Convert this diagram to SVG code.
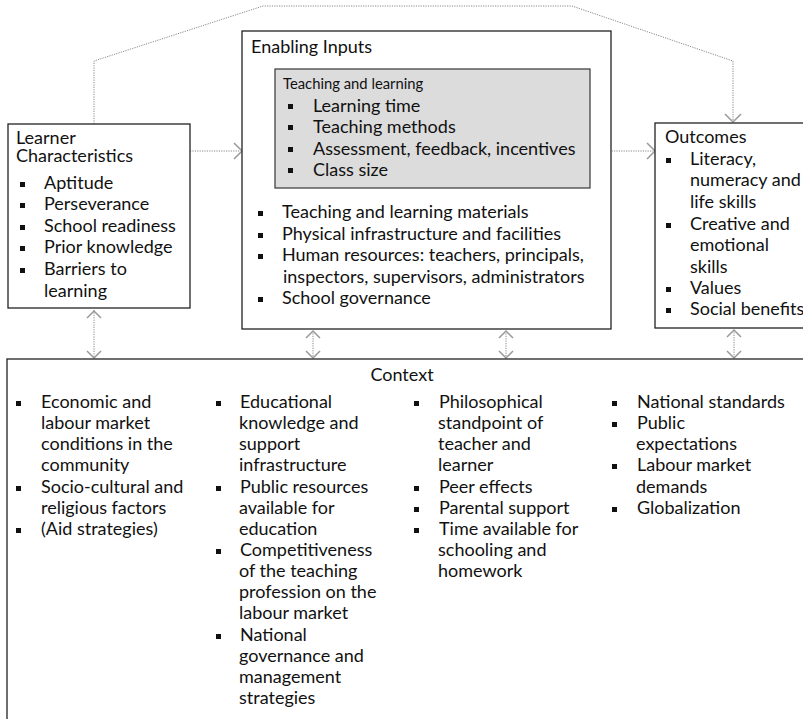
<svg xmlns="http://www.w3.org/2000/svg" width="803" height="719" viewBox="0 0 803 719">
<style>
.box{fill:#fff;stroke:#222;stroke-width:1.3}
.gray{fill:#dcdcdc;stroke:#444;stroke-width:1.3}
.t{font-family:Lato,"Liberation Sans",sans-serif;font-size:18px;fill:#111}
.s{font-family:Lato,"Liberation Sans",sans-serif;font-size:14.8px;fill:#111}
.b{fill:#111}
.dot{fill:none;stroke:#888;stroke-width:1;stroke-dasharray:1.2 1.2}
.head{fill:none;stroke:#999;stroke-width:1.5}
</style>
<defs>
<rect id="bl" class="b" x="0" y="0" width="5" height="5"/>
</defs>
<g id="connectors">
<polyline class="dot" points="94,124 94,61 263,6 572,6 733,61 733,121"/>
<polyline class="head" points="725,114 733,122 741,114"/>
<line class="dot" x1="190" y1="151" x2="240" y2="151"/>
<polyline class="head" points="234,143 242,151 234,159"/>
<line class="dot" x1="590" y1="151" x2="653" y2="151"/>
<polyline class="head" points="647,143 655,151 647,159"/>
<line class="dot" x1="94" y1="310" x2="94" y2="357"/>
<polyline class="head" points="87,318 94,311 101,318"/>
<polyline class="head" points="87,351 94,358 101,351"/>
<line class="dot" x1="313" y1="331" x2="313" y2="357"/>
<polyline class="head" points="306,338 313,331 320,338"/>
<polyline class="head" points="306,351 313,358 320,351"/>
<line class="dot" x1="506" y1="331" x2="506" y2="357"/>
<polyline class="head" points="499,338 506,331 513,338"/>
<polyline class="head" points="499,351 506,358 513,351"/>
<line class="dot" x1="734" y1="330" x2="734" y2="357"/>
<polyline class="head" points="727,337 734,330 741,337"/>
<polyline class="head" points="727,351 734,358 741,351"/>
</g>
<g id="learner">
<rect class="box" x="8" y="124" width="182" height="184"/>
<text class="t" x="16" y="144">Learner</text>
<text class="t" x="16" y="162">Characteristics</text>
<use href="#bl" x="20" y="182"/><text class="t" x="44" y="189">Aptitude</text>
<use href="#bl" x="20" y="203"/><text class="t" x="44" y="210">Perseverance</text>
<use href="#bl" x="20" y="225"/><text class="t" x="44" y="232">School readiness</text>
<use href="#bl" x="20" y="246"/><text class="t" x="44" y="253">Prior knowledge</text>
<use href="#bl" x="20" y="268"/><text class="t" x="44" y="275">Barriers to</text>
<text class="t" x="44" y="297">learning</text>
</g>
<g id="enabling">
<rect class="box" x="242" y="31" width="369" height="298"/>
<text class="t" x="251" y="53">Enabling Inputs</text>
<use href="#bl" x="258" y="211"/><text class="t" x="282" y="218">Teaching and learning materials</text>
<use href="#bl" x="258" y="233"/><text class="t" x="282" y="240">Physical infrastructure and facilities</text>
<use href="#bl" x="258" y="254"/><text class="t" x="282" y="261">Human resources: teachers, principals,</text>
<text class="t" x="283" y="283">inspectors, supervisors, administrators</text>
<use href="#bl" x="258" y="297"/><text class="t" x="282" y="304">School governance</text>
</g>
<g id="teaching">
<rect class="gray" x="275" y="69" width="315" height="119"/>
<text class="s" x="283" y="89">Teaching and learning</text>
<use href="#bl" x="288" y="104"/><text class="t" x="313" y="112">Learning time</text>
<use href="#bl" x="288" y="125"/><text class="t" x="313" y="133">Teaching methods</text>
<use href="#bl" x="288" y="147"/><text class="t" x="313" y="155">Assessment, feedback, incentives</text>
<use href="#bl" x="288" y="168"/><text class="t" x="313" y="176">Class size</text>
</g>
<g id="outcomes">
<rect class="box" x="655" y="123" width="160" height="205"/>
<text class="t" x="665" y="143">Outcomes</text>
<use href="#bl" x="666" y="158"/><text class="t" x="690" y="165">Literacy,</text>
<text class="t" x="690" y="186">numeracy and</text>
<text class="t" x="690" y="208">life skills</text>
<use href="#bl" x="666" y="223"/><text class="t" x="690" y="230">Creative and</text>
<text class="t" x="690" y="251">emotional</text>
<text class="t" x="690" y="273">skills</text>
<use href="#bl" x="666" y="287"/><text class="t" x="690" y="294">Values</text>
<use href="#bl" x="666" y="308"/><text class="t" x="690" y="315">Social benefits</text>
</g>
<g id="context">
<rect class="box" x="7" y="359" width="810" height="370"/>
<text class="t" x="402" y="381" text-anchor="middle">Context</text>
<use href="#bl" x="16" y="401"/><text class="t" x="41" y="408">Economic and</text>
<text class="t" x="41" y="429">labour market</text>
<text class="t" x="41" y="450">conditions in the</text>
<text class="t" x="41" y="471">community</text>
<use href="#bl" x="16" y="486"/><text class="t" x="41" y="493">Socio-cultural and</text>
<text class="t" x="41" y="514">religious factors</text>
<use href="#bl" x="16" y="528"/><text class="t" x="41" y="535">(Aid strategies)</text>

<use href="#bl" x="216" y="401"/><text class="t" x="240" y="408">Educational</text>
<text class="t" x="239" y="429">knowledge and</text>
<text class="t" x="239" y="450">support</text>
<text class="t" x="239" y="471">infrastructure</text>
<use href="#bl" x="216" y="486"/><text class="t" x="240" y="493">Public resources</text>
<text class="t" x="239" y="514">available for</text>
<text class="t" x="239" y="535">education</text>
<use href="#bl" x="216" y="549"/><text class="t" x="240" y="556">Competitiveness</text>
<text class="t" x="239" y="577">of the teaching</text>
<text class="t" x="239" y="598">profession on the</text>
<text class="t" x="239" y="619">labour market</text>
<use href="#bl" x="216" y="634"/><text class="t" x="240" y="641">National</text>
<text class="t" x="239" y="662">governance and</text>
<text class="t" x="239" y="683">management</text>
<text class="t" x="239" y="704">strategies</text>

<use href="#bl" x="414" y="401"/><text class="t" x="439" y="408">Philosophical</text>
<text class="t" x="438" y="429">standpoint of</text>
<text class="t" x="438" y="450">teacher and</text>
<text class="t" x="438" y="471">learner</text>
<use href="#bl" x="414" y="486"/><text class="t" x="439" y="493">Peer effects</text>
<use href="#bl" x="414" y="507"/><text class="t" x="439" y="514">Parental support</text>
<use href="#bl" x="414" y="528"/><text class="t" x="439" y="535">Time available for</text>
<text class="t" x="438" y="556">schooling and</text>
<text class="t" x="438" y="577">homework</text>

<use href="#bl" x="612" y="401"/><text class="t" x="637" y="408">National standards</text>
<use href="#bl" x="612" y="422"/><text class="t" x="637" y="429">Public</text>
<text class="t" x="636" y="450">expectations</text>
<use href="#bl" x="612" y="464"/><text class="t" x="637" y="471">Labour market</text>
<text class="t" x="636" y="493">demands</text>
<use href="#bl" x="612" y="507"/><text class="t" x="637" y="514">Globalization</text>
</g>
</svg>
